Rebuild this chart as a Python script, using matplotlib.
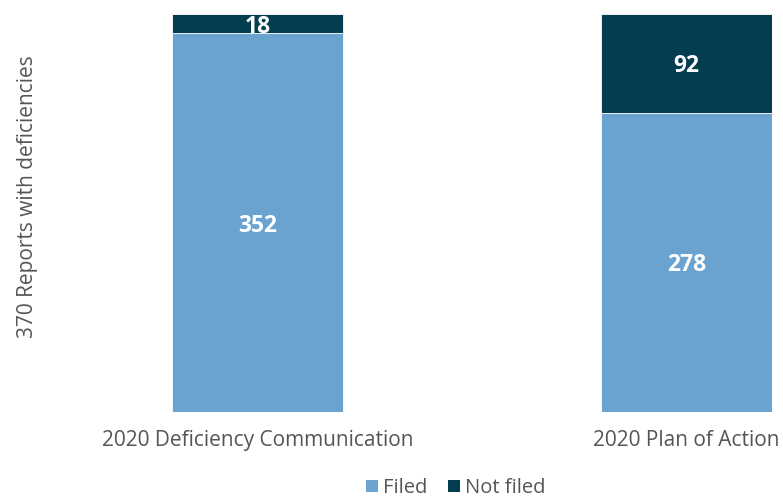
import matplotlib.pyplot as plt
from matplotlib.patches import Patch

plt.rcParams['font.family'] = ['Open Sans', 'DejaVu Sans']

categorias = ['2020 Deficiency Communication', '2020 Plan of Action']
filed = [352, 278]
not_filed = [18, 92]
series = ['Filed', 'Not filed']
cores = ['#6aa3cf', '#053d50']
texto = '#555555'

fig = plt.figure(figsize=(7.83, 4.99), dpi=100)
ax = fig.add_axes([172/783, 87/499, 600/783, 398/499])

x = list(range(len(categorias)))
ax.bar(x, filed, width=0.4, color=cores[0], edgecolor='white', linewidth=0.6)
ax.bar(x, not_filed, width=0.4, bottom=filed, color=cores[1], edgecolor='white', linewidth=0.6)

for i in x:
    ax.text(i, filed[i] / 2, str(filed[i]), ha='center', va='center_baseline',
            color='white', fontsize=16.5, fontweight='bold')
    ax.text(i, filed[i] + not_filed[i] / 2, str(not_filed[i]), ha='center', va='center_baseline',
            color='white', fontsize=16.5, fontweight='bold')

ax.set_xlim(-0.2, 1.2)
ax.set_ylim(0, 370)
ax.set_yticks([])
ax.set_xticks(x)
ax.set_xticklabels(categorias, fontsize=15, color=texto)
ax.tick_params(axis='x', length=0, pad=13)
for s in ax.spines.values():
    s.set_visible(False)

fig.text(28/783, 1 - 197/499, '370 Reports with deficiencies', rotation=90,
         ha='center', va='center', fontsize=15, color=texto)

handles = [Patch(facecolor=c, edgecolor='none') for c in cores]
leg = fig.legend(handles, series, loc='center', bbox_to_anchor=(456/783, 1 - 488/499),
                 ncol=2, frameon=False, fontsize=14.5, handlelength=0.6, handleheight=0.6,
                 handletextpad=0.25, columnspacing=1.0, borderpad=0)
for t in leg.get_texts():
    t.set_color(texto)

fig.savefig('out.png', dpi=100)
